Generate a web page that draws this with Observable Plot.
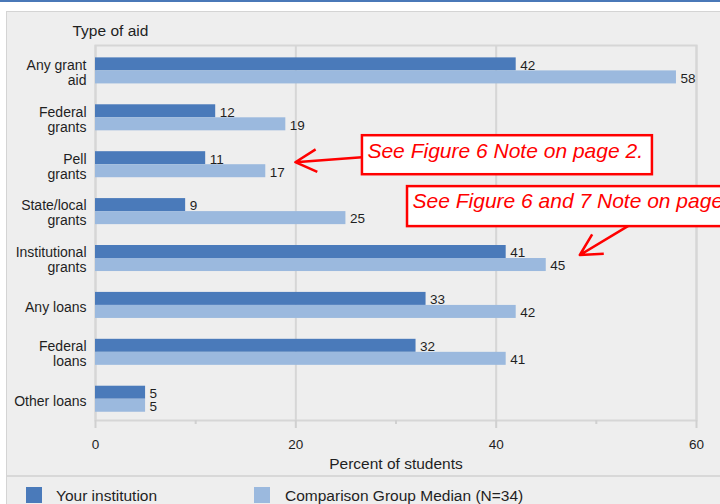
<!DOCTYPE html>
<html><head><meta charset="utf-8">
<script src="https://cdn.jsdelivr.net/npm/d3@7"></script>
<script src="https://cdn.jsdelivr.net/npm/@observablehq/plot@0.6"></script>
<style>
html,body{margin:0;padding:0;width:720px;height:504px;overflow:hidden;background:#fff;font-family:"Liberation Sans",Arial,sans-serif;}
#topbar{position:absolute;left:0;top:0;width:720px;height:2px;background:#4a78b8;}
#panel{position:absolute;left:6px;top:11px;width:800px;height:600px;background:#eeeeee;border:1px solid #d4d4d4;box-sizing:border-box;}
#chart{position:absolute;left:0;top:0;}
#divider{position:absolute;left:7px;top:475px;width:800px;height:2px;background:#d8d8d8;}
.sw{position:absolute;top:487px;width:16px;height:16px;}
.lt{position:absolute;top:487px;font-size:15.5px;line-height:18px;color:#1f1f1f;white-space:nowrap;}
</style></head>
<body>
<div id="topbar"></div>
<div id="panel"></div>
<div id="chart"></div>
<div id="divider"></div>
<div id="legend"></div>
<script>
const categories = ["Any grant\naid", "Federal\ngrants", "Pell\ngrants", "State/local\ngrants", "Institutional\ngrants", "Any loans", "Federal\nloans", "Other loans"];
const seriesNames = ["Your institution", "Comparison Group Median (N=34)"];
const yourInstitution = [42, 12, 11, 9, 41, 33, 32, 5];
const comparisonMedian = [58, 19, 17, 25, 45, 42, 41, 5];
const xTicks = [0, 20, 40, 60];
const xMinorTicks = [10, 30, 50];
const xDomain = [0, 60];
const yTitle = "Type of aid";
const xTitle = "Percent of students";
const notes = [
  {text: "See Figure 6 Note on page 2.", boxX: [26.65, 55.6], boxCat: categories[2], boxDy: [-29, 10], tail: {x: 26.65, c: categories[2], dy: -7}, tip: {x: 20, c: categories[2], dy: -2}, base: 23},
  {text: "See Figure 6 and 7 Note on page 2.", boxX: [31.15, 80], boxCat: categories[3], boxDy: [-25, 15], tail: {x: 53.7, c: categories[3], dy: 12}, tip: {x: 48.4, c: categories[4], dy: -3}, base: 22}
];

const dark = "#4a7aba", light = "#9bb9de", textColor = "#1f1f1f", gridColor = "#d6d6d6";
const seriesColors = [dark, light];

const rowsA = categories.map((c, i) => ({category: c, value: yourInstitution[i]}));
const rowsB = categories.map((c, i) => ({category: c, value: comparisonMedian[i]}));

const W = 720, H = 504, mT = 45, mB = 84, mL = 95, mR = 24;
const pInner = 0.445, pOuter = 0.22;
const step = (H - mT - mB) / (categories.length - pInner + 2 * pOuter);
const half = step * (1 - pInner) / 2;

const chart = Plot.plot({
  width: W, height: H, marginTop: mT, marginBottom: mB, marginLeft: mL, marginRight: mR,
  style: {background: "transparent", fontFamily: "'Liberation Sans', Arial, sans-serif", fontSize: "13.5px", color: textColor},
  x: {domain: xDomain},
  y: {domain: categories, paddingInner: pInner, paddingOuter: pOuter, align: 0.6, round: false},
  marks: [
    Plot.gridX(xTicks, {stroke: gridColor, strokeOpacity: 1, strokeWidth: 2}),
    Plot.frame({stroke: gridColor, strokeWidth: 2}),
    Plot.barX(rowsA, {x: "value", y: "category", fill: dark, insetBottom: half}),
    Plot.barX(rowsB, {x: "value", y: "category", fill: light, insetTop: half}),
    Plot.text(rowsA, {x: "value", y: "category", text: d => String(d.value), dx: 4, dy: -5.5, textAnchor: "start", fill: textColor, fontSize: 13.5}),
    Plot.text(rowsB, {x: "value", y: "category", text: d => String(d.value), dx: 4, dy: 7.5, textAnchor: "start", fill: textColor, fontSize: 13.5}),
    Plot.axisY({tickSize: 0, tickPadding: 9, fontSize: 14, lineHeight: 1.07, dy: 1.5, label: null, fill: textColor}),
    Plot.axisX(xTicks, {tickSize: 8, tickPadding: 11, stroke: "#d0d0d0", strokeWidth: 2, fill: textColor, fontSize: 13.5, label: null}),
    Plot.axisX(xMinorTicks, {tickSize: 4, tickFormat: () => "", stroke: "#d0d0d0", strokeWidth: 2, label: null}),
    Plot.text([xTitle], {frameAnchor: "bottom", lineAnchor: "middle", dy: 44, fontSize: 15.5, fill: textColor}),
    Plot.text([yTitle], {frameAnchor: "top-left", lineAnchor: "middle", dx: -23, dy: -14, textAnchor: "start", fontSize: 15.5, fill: textColor})
  ]
});
document.getElementById("chart").appendChild(chart);

// annotations anchored to the chart's own scales
const sx = chart.scale("x"), sy = chart.scale("y");
const mid = c => sy.apply(c) + sy.bandwidth / 2;
const svg = d3.select(chart);
const g = svg.append("g").attr("class", "notes");
function arrow(x1, y1, x2, y2) {
  const a = Math.atan2(y1 - y2, x1 - x2), L = 24, w = 28 * Math.PI / 180;
  g.append("path")
    .attr("d", `M${x1},${y1}L${x2},${y2}M${x2 + L * Math.cos(a + w)},${y2 + L * Math.sin(a + w)}L${x2},${y2}L${x2 + L * Math.cos(a - w)},${y2 + L * Math.sin(a - w)}`)
    .attr("fill", "none").attr("stroke", "#ff0000").attr("stroke-width", 2.5).attr("stroke-linejoin", "round");
}
for (const n of notes) {
  const bx0 = sx.apply(n.boxX[0]), bx1 = sx.apply(n.boxX[1]);
  const by0 = mid(n.boxCat) + n.boxDy[0], by1 = mid(n.boxCat) + n.boxDy[1];
  arrow(sx.apply(n.tail.x), mid(n.tail.c) + n.tail.dy, sx.apply(n.tip.x), mid(n.tip.c) + n.tip.dy);
  g.append("rect").attr("x", bx0).attr("y", by0).attr("width", bx1 - bx0).attr("height", by1 - by0)
    .attr("fill", "#fff").attr("stroke", "#ff0000").attr("stroke-width", 2.5);
  g.append("text").attr("x", bx0 + 5.5).attr("y", by0 + n.base).text(n.text)
    .attr("text-anchor", "start")
    .attr("fill", "#ff0000").attr("font-style", "italic").attr("font-size", 21)
    .attr("font-family", "'Liberation Sans', Arial, sans-serif");
}

// legend
const legend = document.getElementById("legend");
const legendX = [[26, 56], [254, 285]];
seriesNames.forEach((s, i) => {
  const sw = document.createElement("div");
  sw.className = "sw"; sw.style.left = legendX[i][0] + "px"; sw.style.background = seriesColors[i];
  const t = document.createElement("div");
  t.className = "lt"; t.style.left = legendX[i][1] + "px"; t.textContent = s;
  legend.appendChild(sw); legend.appendChild(t);
});
</script>
</body></html>
